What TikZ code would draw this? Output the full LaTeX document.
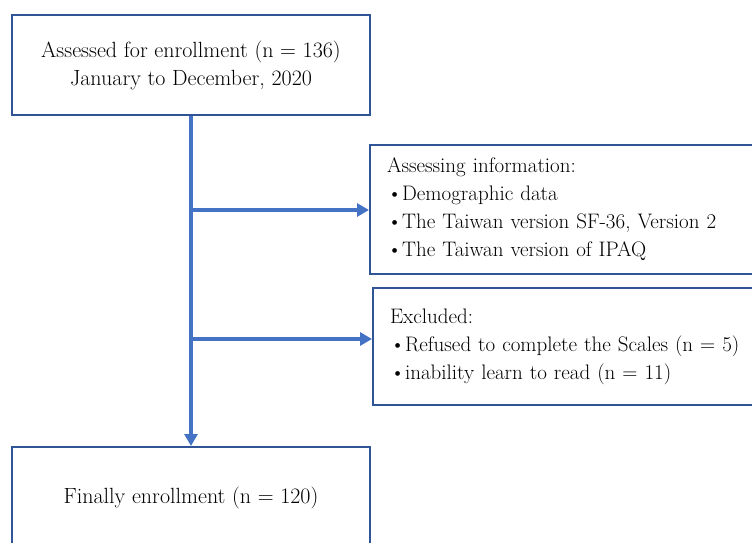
\documentclass[tikz,border=0pt]{standalone}
\usetikzlibrary{positioning,arrows.meta}
\definecolor{flowblue}{HTML}{4472C4}
\definecolor{boxblue}{HTML}{2F5597}

\begin{document}
\begin{tikzpicture}[x=1pt,y=-1pt,
  every node/.style={font=\fontsize{22}{28}\selectfont},
  stagebox/.style={draw=boxblue,line width=2pt,minimum width=358pt,align=center},
  sidebox/.style={draw=boxblue,line width=2pt,anchor=west,inner xsep=17pt,text width=420pt,align=left,font=\fontsize{21}{28}\selectfont},
  flow/.style={draw=flowblue,line width=3.2pt,-{Triangle[length=12pt,width=13pt]}}]
\useasboundingbox (0,0) rectangle (752,543);
\clip (0,0) rectangle (752,543);
% stages
\node[stagebox,minimum height=100pt] (assessed) at (191,65) {Assessed for enrollment (n = 136)\\January to December, 2020};
\node[stagebox,minimum height=102pt] (final) at (191,498) {Finally enrollment (n = 120)};
% side boxes
\node[sidebox,minimum height=129pt] (info) at (369,209.5) {Assessing information:\\\textbullet Demographic data\\\textbullet The Taiwan version SF-36, Version 2\\\textbullet The Taiwan version of IPAQ};
\node[sidebox,minimum height=117pt] (excl) at (372,346.5) {Excluded:\\\textbullet Refused to complete the Scales (n = 5)\\\textbullet inability learn to read (n = 11)};
% connectors
\coordinate (br1) at (191,210);
\coordinate (br2) at (191,339);
\draw[flow] (assessed.south) -- (final.north);
\draw[flow] (br1) -- (br1 -| info.west);
\draw[flow] (br2) -- (br2 -| excl.west);
\end{tikzpicture}
\end{document}
